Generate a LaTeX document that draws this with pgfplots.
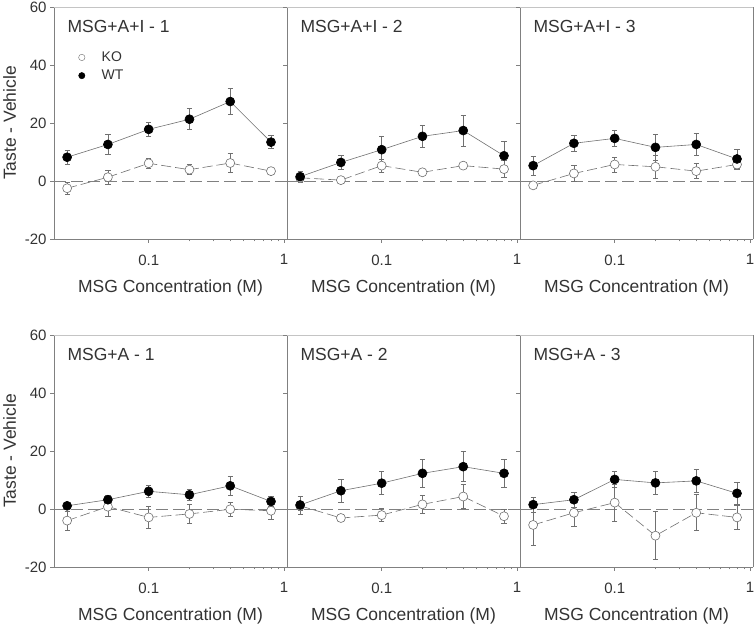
\documentclass[border=0pt]{standalone}
\usepackage{fontspec}
\setmainfont{Liberation Sans}
\usepackage{pgfplots}
\pgfplotsset{compat=1.18}
\definecolor{txt}{HTML}{333333}
\definecolor{axc}{HTML}{808080}
\definecolor{topc}{HTML}{C4C4C4}
\definecolor{lnc}{HTML}{707070}

\pgfplotsset{
  error bars/y dir=both,
  error bars/y explicit,
  error bars/error bar style={lnc, line width=0.6pt, solid},
  error bars/error mark options={rotate=90, mark size=2.6pt, lnc, line width=0.6pt, solid},
}

% #1 position, #2 extra options, #3 title, #4 WT data, #5 KO data, #6 extra content
\newcommand{\panel}[6]{%
  \begin{semilogxaxis}[
    scale only axis, width=233pt, height=232pt,
    anchor=north west, at={#1},
    xmin=0.02, xmax=1.05,
    ymin=-20, ymax=60,
    axis x line*=bottom,
    xtick={0.1,1}, xticklabels={0.1,1},
    ytick={-20,0,20,40,60},
    yticklabels={},
    xtick pos=bottom, ytick pos=left,
    tick align=outside,
    major tick length=4pt, minor tick length=2.5pt,
    tick style={axc, line width=0.5pt},
    axis line style={axc, line width=0.7pt},
    tick label style={font=\fontsize{15}{17}\selectfont, text=txt},
    xticklabel style={yshift=-8pt},
    xlabel={MSG Concentration (M)},
    xlabel style={at={(axis description cs:0.5,-0.21)}, anchor=center,
      font=\fontsize{17.5}{20}\selectfont, text=txt},
    clip=false,
    #2]
    #6
    \draw[topc, line width=0.7pt] (rel axis cs:0,1) -- (rel axis cs:1,1);
    \addplot[gray, line width=0.6pt, dash pattern=on 12pt off 5pt, forget plot]
      coordinates {(0.02,0) (1.05,0)};
    \addplot[forget plot, draw=lnc, line width=0.6pt, dash pattern=on 10pt off 4pt,
      mark=*, mark size=4.5pt, mark options={solid, fill=white, draw=lnc}]
      coordinates {#5};
    \addplot[forget plot, draw=lnc, line width=0.6pt, solid,
      mark=*, mark size=4.5pt, mark options={solid, fill=black, draw=black}]
      coordinates {#4};
    \node[anchor=base west, font=\fontsize{17.5}{20}\selectfont, text=txt]
      at (rel axis cs:0.043,0.888) {#3};
  \end{semilogxaxis}%
}

\begin{document}
\begin{tikzpicture}
\useasboundingbox (0pt,0pt) rectangle (755pt,-628pt);

% ---- row 1: MSG+A+I ----
\panel{(54pt,-7pt)}{yticklabels={-20,0,20,40,60},
    ylabel={Taste - Vehicle},
    ylabel style={at={(axis description cs:-0.19,0.5)}, anchor=center,
      font=\fontsize{17.5}{20}\selectfont, text=txt},
    legend style={at={(axis description cs:0.069,0.825)}, anchor=north west,
      draw=none, fill=none, font=\fontsize{14}{16}\selectfont,
      text=txt, row sep=3pt,
      legend image code/.code={\path[draw=none] (0cm,0cm) -- (0.93cm,0cm);
        \draw[##1] plot coordinates {(0.3cm,0cm)};}},
    legend cell align=left}{MSG+A+I - 1}
  {(0.025,8.2) +- (0,2.3) (0.05,12.6) +- (0,3.4) (0.1,17.8) +- (0,2.5)
   (0.2,21.3) +- (0,3.6) (0.4,27.4) +- (0,4.4) (0.8,13.4) +- (0,2.2)}
  {(0.025,-2.5) +- (0,2.0) (0.05,1.3) +- (0,2.4) (0.1,6.1) +- (0,1.7)
   (0.2,3.9) +- (0,1.7) (0.4,6.2) +- (0,3.2) (0.8,3.4) +- (0,1.0)}
  {\addlegendimage{only marks, mark=*, mark size=3.2pt, mark options={fill=white, draw=lnc}}
   \addlegendentry{KO}
   \addlegendimage{only marks, mark=*, mark size=3.2pt, mark options={fill=black, draw=black}}
   \addlegendentry{WT}}

\panel{(287pt,-7pt)}{}{MSG+A+I - 2}
  {(0.025,1.5) +- (0,1.8) (0.05,6.4) +- (0,2.4) (0.1,10.8) +- (0,4.5)
   (0.2,15.4) +- (0,3.8) (0.4,17.4) +- (0,5.4) (0.8,8.7) +- (0,4.9)}
  {(0.025,1.1) +- (0,1.5) (0.05,0.3) +- (0,1.0) (0.1,5.3) +- (0,2.3)
   (0.2,3.0) +- (0,0.7) (0.4,5.3) +- (0,0.6) (0.8,4.1) +- (0,2.9)}{}

\panel{(520pt,-7pt)}{}{MSG+A+I - 3}
  {(0.025,5.3) +- (0,3.3) (0.05,13.0) +- (0,2.6) (0.1,14.7) +- (0,2.9)
   (0.2,11.6) +- (0,4.4) (0.4,12.6) +- (0,3.7) (0.8,7.6) +- (0,3.2)}
  {(0.025,-1.5) +- (0,0.6) (0.05,2.6) +- (0,2.8) (0.1,5.7) +- (0,2.6)
   (0.2,4.9) +- (0,3.8) (0.4,3.4) +- (0,2.6) (0.8,5.7) +- (0,1.7)}{}

% ---- row 2: MSG+A ----
\panel{(54pt,-335pt)}{yticklabels={-20,0,20,40,60},
    ylabel={Taste - Vehicle},
    ylabel style={at={(axis description cs:-0.19,0.5)}, anchor=center,
      font=\fontsize{17.5}{20}\selectfont, text=txt}}{MSG+A - 1}
  {(0.025,1.1) +- (0,0.6) (0.05,3.2) +- (0,1.6) (0.1,6.1) +- (0,2.0)
   (0.2,4.9) +- (0,2.0) (0.4,8.0) +- (0,3.3) (0.8,2.6) +- (0,1.7)}
  {(0.025,-4.0) +- (0,3.2) (0.05,0.8) +- (0,3.4) (0.1,-2.9) +- (0,3.7)
   (0.2,-1.7) +- (0,3.3) (0.4,-0.1) +- (0,2.3) (0.8,-0.6) +- (0,2.8)}{}

\panel{(287pt,-335pt)}{}{MSG+A - 2}
  {(0.025,1.4) +- (0,3.1) (0.05,6.3) +- (0,3.9) (0.1,8.9) +- (0,4.0)
   (0.2,12.3) +- (0,4.9) (0.4,14.6) +- (0,5.2) (0.8,12.3) +- (0,4.9)}
  {(0.025,1.1) +- (0,1.5) (0.05,-3.1) +- (0,1.2) (0.1,-2.1) +- (0,2.3)
   (0.2,1.6) +- (0,3.2) (0.4,4.3) +- (0,4.2) (0.8,-2.5) +- (0,2.4)}{}

\panel{(520pt,-335pt)}{}{MSG+A - 3}
  {(0.025,1.5) +- (0,2.7) (0.05,3.2) +- (0,2.7) (0.1,10.2) +- (0,2.8)
   (0.2,9.0) +- (0,4.0) (0.4,9.7) +- (0,3.9) (0.8,5.4) +- (0,3.7)}
  {(0.025,-5.5) +- (0,6.9) (0.05,-1.3) +- (0,4.5) (0.1,2.2) +- (0,6.3)
   (0.2,-9.2) +- (0,8.3) (0.4,-1.3) +- (0,6.2) (0.8,-2.9) +- (0,4.2)}{}

\end{tikzpicture}
\end{document}
